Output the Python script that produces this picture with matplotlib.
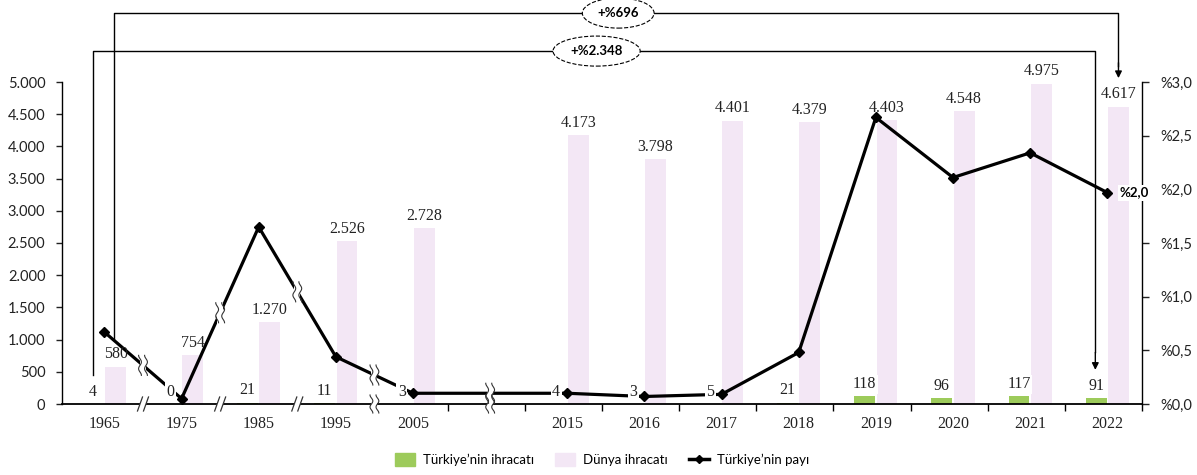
import matplotlib
matplotlib.use('Agg')
import matplotlib.pyplot as plt
import numpy as np
import matplotlib.transforms as mtransforms
from matplotlib.patches import Patch, Rectangle
from matplotlib.lines import Line2D

# ---------------- data ----------------
years = ['1965', '1975', '1985', '1995', '2005', '2015', '2016', '2017',
         '2018', '2019', '2020', '2021', '2022']
turkey_exports = [4, 0, 21, 11, 3, 4, 3, 5, 21, 118, 96, 117, 91]
world_exports = [580, 754, 1270, 2526, 2728, 4173, 3798, 4401, 4379, 4403,
                 4548, 4975, 4617]
turkey_share = [0.67, 0.05, 1.65, 0.44, 0.10, 0.10, 0.07, 0.09, 0.48, 2.67,
                2.11, 2.34, 1.97]
left_ticks = [0, 500, 1000, 1500, 2000, 2500, 3000, 3500, 4000, 4500, 5000]
left_tick_labels = ['0', '500', '1.000', '1.500', '2.000', '2.500', '3.000',
                    '3.500', '4.000', '4.500', '5.000']
right_ticks = [0.0, 0.5, 1.0, 1.5, 2.0, 2.5, 3.0]
right_tick_labels = ['%0,0', '%0,5', '%1,0', '%1,5', '%2,0', '%2,5', '%3,0']
world_change_label = '+%696'
turkey_change_label = '+%2.348'
last_share_label = '%2,0'
legend_labels = ['Türkiye’nin ihracatı', 'Dünya ihracatı', 'Türkiye’nin payı']

GREEN = '#9dcb5b'
PINK = '#f3e7f5'

plt.rcParams['font.family'] = ['Lato', 'DejaVu Sans']
SERIF = ['Liberation Serif', 'DejaVu Serif']

def tr_fmt(v):
    return f'{v:,}'.replace(',', '.')

# slot positions: a gap slot between 2005 and 2015
pos = np.arange(len(years), dtype=float)
pos[5:] += 1

fig = plt.figure(figsize=(11.97, 4.75), dpi=100)
ax = fig.add_axes([62 / 1197, 1 - 404 / 475, 1080 / 1197, 322 / 475])
ax2 = ax.twinx()

off = 0.145
w = 0.27
ax.bar(pos - off, turkey_exports, width=w, color=GREEN, zorder=2)
ax.bar(pos + off, world_exports, width=w, color=PINK, zorder=1)

ax.set_xlim(-0.55, 13.45)
ax.set_ylim(0, 5000)
ax2.set_ylim(0, 3)

# axes styling
for s in ['top', 'right']:
    ax.spines[s].set_visible(False)
for s in ['top', 'left', 'bottom']:
    ax2.spines[s].set_visible(False)
ax.spines['left'].set_linewidth(1.0)
ax.spines['bottom'].set_linewidth(1.3)
ax2.spines['right'].set_linewidth(1.0)

ax.set_yticks(left_ticks, left_tick_labels)
ax.tick_params(axis='y', direction='out', length=4, width=1, labelsize=10.5,
               colors='#222222', pad=8)
ax2.set_yticks(right_ticks, right_tick_labels)
ax2.tick_params(axis='y', direction='out', length=5, width=1, labelsize=10.5,
                colors='#222222', pad=8)
ax.set_xticks(pos, years)
ax.tick_params(axis='x', which='major', length=0, pad=9)
for lab in ax.get_xticklabels():
    lab.set_fontfamily(SERIF)
    lab.set_fontsize(11.5)
    lab.set_color('#222222')
ax.set_xticks(np.arange(4.45, 13.5, 1.0), minor=True)
ax.tick_params(axis='x', which='minor', direction='out', length=5, width=1)

# share line
ax2.plot(pos, turkey_share, color='black', lw=2.3, marker='D', ms=5,
         zorder=3, solid_joinstyle='round')

# data labels (on ax2 so they sit above the line)
for x, v in zip(pos, turkey_exports):
    ax2.annotate(tr_fmt(v), xy=(x - off, v), xycoords=ax.transData,
                 xytext=(0, 3), textcoords='offset points', ha='center',
                 va='bottom', fontsize=11.5, family=SERIF, color='#222222',
                 zorder=5,
                 bbox=dict(boxstyle='square,pad=0.1', fc='white', ec='none'))
for x, v in zip(pos, world_exports):
    ax2.annotate(tr_fmt(v), xy=(x + off, v), xycoords=ax.transData,
                 xytext=(0, 3), textcoords='offset points', ha='center',
                 va='bottom', fontsize=11.5, family=SERIF, color='#222222',
                 zorder=5)

# last share label
ax2.annotate(last_share_label, xy=(pos[-1], turkey_share[-1]),
             xytext=(9, 0), textcoords='offset points', ha='left',
             va='center', fontsize=9.5, fontweight='bold', zorder=6,
             annotation_clip=False,
             bbox=dict(boxstyle='square,pad=0.15', fc='white', ec='none'))

# ---- break marks (drawn in pixel space) ----
ident = mtransforms.IdentityTransform()

def wavy(px, py, half_h, dx, amp=1.4, lw=0.8):
    t = np.linspace(-1, 1, 40)
    xs = px + dx + amp * np.sin(t * np.pi * 1.5)
    ys = py + half_h * t
    fig.add_artist(Line2D(xs, ys, transform=ident, color='#333333', lw=lw,
                          zorder=10))

def gap(px, py, hw, hh):
    fig.add_artist(Rectangle((px - hw, py - hh), 2 * hw, 2 * hh,
                             transform=ident, fc='white', ec='none',
                             zorder=9))

break_after = [0, 1, 2, 3, 4]
axis_slash = [True, True, True, False, False]
fig.canvas.draw()
for i, slash in zip(break_after, axis_slash):
    xb = (pos[i] + pos[i + 1]) / 2
    # on the line
    frac = (xb - pos[i]) / (pos[i + 1] - pos[i])
    yb = turkey_share[i] + frac * (turkey_share[i + 1] - turkey_share[i])
    px, py = ax2.transData.transform((xb, yb))
    gap(px, py, 3.0, 14)
    wavy(px, py, 10, -3.0)
    wavy(px, py, 10, 3.0)
    # on the x axis
    ax_px, ax_py = ax.transData.transform((xb, 0))
    if slash:
        gap(ax_px, ax_py, 3.0, 3)
        for dx in (-3.0, 3.0):
            fig.add_artist(Line2D([ax_px + dx - 2.5, ax_px + dx + 2.5],
                                  [ax_py - 7, ax_py + 7], transform=ident,
                                  color='#333333', lw=0.9, zorder=10))
    else:
        gap(ax_px, ax_py, 3.0, 3)
        wavy(ax_px, ax_py, 9, -3.0)
        wavy(ax_px, ax_py, 9, 3.0)

# ---- change brackets above the chart ----
bt = mtransforms.blended_transform_factory(ax.transData, ax.transAxes)
# world exports bracket (outer)
xo1, xo2 = pos[0] + off - 0.02, pos[-1] + off
ax.add_line(Line2D([xo1, xo1, xo2, xo2], [0.20, 1.214, 1.214, 1.05],
                   transform=bt, color='black', lw=1.0, clip_on=False))
ax.annotate('', xy=(xo2, 1.012), xytext=(xo2, 1.06), xycoords=bt,
            textcoords=bt, annotation_clip=False,
            arrowprops=dict(arrowstyle='-|>', color='black', lw=1.0,
                            mutation_scale=10, shrinkA=0, shrinkB=0))
# turkey exports bracket (inner)
xi1, xi2 = pos[0] - off, pos[-1] - off - 0.01
ax.add_line(Line2D([xi1, xi1, xi2, xi2], [0.09, 1.096, 1.096, 0.16],
                   transform=bt, color='black', lw=1.0, clip_on=False))
ax.annotate('', xy=(xi2, 0.106), xytext=(xi2, 0.16), xycoords=bt,
            textcoords=bt, annotation_clip=False,
            arrowprops=dict(arrowstyle='-|>', color='black', lw=1.0,
                            mutation_scale=10, shrinkA=0, shrinkB=0))

ax.text(0.515, 1.214, world_change_label, transform=ax.transAxes,
        ha='center', va='center', fontsize=9.5, fontweight='bold',
        bbox=dict(boxstyle='ellipse,pad=0.35', fc='white', ec='black',
                  ls='--', lw=0.8), zorder=10, clip_on=False)
ax.text(0.495, 1.096, turkey_change_label, transform=ax.transAxes,
        ha='center', va='center', fontsize=9.5, fontweight='bold',
        bbox=dict(boxstyle='ellipse,pad=0.35', fc='white', ec='black',
                  ls='--', lw=0.8), zorder=10, clip_on=False)

# ---- legend ----
handles = [Patch(color=GREEN), Patch(color=PINK),
           Line2D([0], [0], color='black', lw=2.5, marker='D', ms=4.5)]
fig.legend(handles, legend_labels, loc='center', bbox_to_anchor=(0.503, 0.032),
           ncol=3, frameon=False, fontsize=9.5, handlelength=1.5,
           handleheight=1.1, columnspacing=1.6, handletextpad=0.6)

fig.savefig('out.png', dpi=100)
